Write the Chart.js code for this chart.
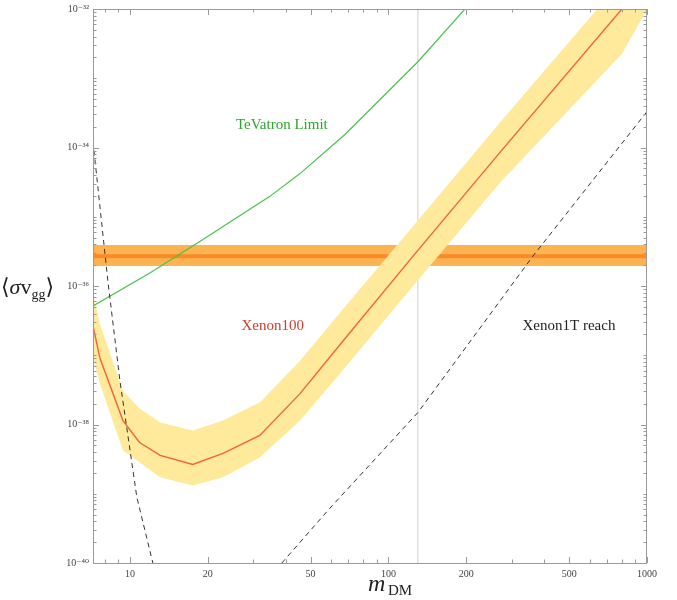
<!DOCTYPE html>
<html>
<head>
<meta charset="utf-8">
<script src="https://cdn.jsdelivr.net/npm/chart.js@4.4.1/dist/chart.umd.min.js"></script>
<style>
  html, body { margin: 0; padding: 0; background: #fff; }
  #wrap { width: 677px; height: 600px; }
</style>
</head>
<body>
<div id="wrap"><canvas id="limitsChart"></canvas></div>
<script>
// axis ranges
const xRange = [7.2, 1000];
const yRange = [1e-40, 1e-32];
const xMajorTicks = [10, 20, 50, 100, 200, 500, 1000];
const xMinorTicks = [8, 9, 30, 40, 60, 70, 80, 90, 300, 400, 600, 700, 800, 900];
const yMajorExp = [-40, -38, -36, -34, -32];

// Xenon100 central limit and its band
const xenonMass = [7.2, 7.65, 9.4, 10.9, 13.1, 17.5, 22.9, 31.8, 45.5, 64.9, 124.5, 270, 800, 1000];
const xenonCentral = [2.65e-37, 9.2e-38, 1.14e-38, 5.5e-39, 3.58e-39, 2.65e-39, 3.83e-39, 6.95e-39, 2.79e-38, 1.42e-37, 2.7e-36, 8.5e-35, 1.0e-32, 2.7e-32];
const xenonUpper = [7.7e-37, 2.84e-37, 3.08e-38, 1.7e-38, 1.07e-38, 8.2e-39, 1.14e-38, 2.07e-38, 8.3e-38, 4.1e-37, 7.3e-36, 2.29e-34, 2.6e-32, 7.1e-32];
const xenonLower = [9.2e-38, 3.9e-38, 4.23e-39, 2.84e-39, 1.73e-39, 1.32e-39, 1.73e-39, 3.35e-39, 1.14e-38, 5.4e-38, 1.0e-36, 3.1e-35, 2.25e-33, 9.8e-33];

// TeVatron limit
const tevMass = [7.2, 11.95, 18.7, 34.8, 45.5, 67.9, 130, 201];
const tevLimit = [5.15e-37, 1.54e-36, 4.43e-36, 1.97e-35, 4.2e-35, 1.54e-34, 1.73e-33, 1.07e-32];

// dashed curves
const lowMass = [7.2, 8.22, 9.15, 10.64, 12.27, 13.06];
const lowCurve = [1.22e-34, 1.18e-36, 4.3e-38, 8.9e-40, 1.0e-40, 2.9e-41];
const reachMass = [38.7, 59.4, 130, 362, 1000];
const reachCurve = [1.0e-40, 6.2e-40, 1.49e-38, 2.7e-36, 3.3e-34];

// horizontal band and vertical line
const bandCenter = 2.7e-36;
const bandTop = 3.9e-36;
const bandBottom = 1.94e-36;
const lineMass = 130;

const pts = (xs, ys) => xs.map((x, i) => ({ x: x, y: ys[i] }));
const flat = v => [{ x: xRange[0], y: v }, { x: xRange[1], y: v }];

const supDigits = { '-': '\u207B', '0': '\u2070', '1': '\u00B9', '2': '\u00B2', '3': '\u00B3', '4': '\u2074', '5': '\u2075', '6': '\u2076', '7': '\u2077', '8': '\u2078', '9': '\u2079' };
const sup = s => String(s).split('').map(c => supDigits[c]).join('');

let yTicks = [];
for (let e = -40; e < -32; e++) {
    for (let k = 1; k <= 9; k++) yTicks.push(k * Math.pow(10, e));
}
yTicks.push(1e-32);
const isYMajor = v => yMajorExp.some(e => Math.abs(v / Math.pow(10, e) - 1) < 1e-6);
const isXMajor = v => xMajorTicks.includes(v);

const serif = '"Liberation Serif", "DejaVu Serif", serif';
Chart.defaults.font.family = serif;

// inward tick marks on all four sides plus the frame
const frameTicks = {
    id: 'frameTicks',
    afterDatasetsDraw(chart) {
        const { ctx, chartArea: a, scales } = chart;
        ctx.save();
        ctx.strokeStyle = '#9a9a9a';
        ctx.lineWidth = 1;
        ctx.strokeRect(a.left + 0.5, a.top + 0.5, a.right - a.left - 1, a.bottom - a.top);
        ctx.beginPath();
        scales.x.ticks.forEach(t => {
            const px = Math.round(scales.x.getPixelForValue(t.value)) + 0.5;
            const len = isXMajor(t.value) ? 6 : 3.5;
            ctx.moveTo(px, a.bottom); ctx.lineTo(px, a.bottom - len);
            ctx.moveTo(px, a.top); ctx.lineTo(px, a.top + len);
        });
        scales.y.ticks.forEach(t => {
            const py = Math.round(scales.y.getPixelForValue(t.value)) + 0.5;
            const len = isYMajor(t.value) ? 6 : 3.5;
            ctx.moveTo(a.left, py); ctx.lineTo(a.left + len, py);
            ctx.moveTo(a.right, py); ctx.lineTo(a.right - len, py);
        });
        ctx.stroke();
        ctx.restore();
    }
};

// curve labels and axis titles
const chartText = {
    id: 'chartText',
    afterDraw(chart) {
        const { ctx, scales } = chart;
        const X = v => scales.x.getPixelForValue(v);
        const Y = v => scales.y.getPixelForValue(v);
        ctx.save();
        ctx.textBaseline = 'middle';
        ctx.textAlign = 'center';
        ctx.font = '15px ' + serif;
        ctx.fillStyle = '#2ea52e';
        ctx.fillText('TeVatron Limit', X(38.7), Y(2.14e-34));
        ctx.fillStyle = '#c8402e';
        ctx.fillText('Xenon100', X(35.7), Y(2.65e-37));
        ctx.fillStyle = '#222';
        ctx.fillText('Xenon1T reach', X(499), Y(2.6e-37));

        // x title: m_DM
        ctx.textAlign = 'left';
        ctx.textBaseline = 'alphabetic';
        ctx.fillStyle = '#222';
        ctx.font = 'italic 24px ' + serif;
        ctx.fillText('m', 368, 591);
        ctx.font = '15px ' + serif;
        ctx.fillText('DM', 388, 595);

        // y title: <sigma v_gg>
        let x = 1;
        const base = 294;
        ctx.font = '22px ' + serif;
        ctx.fillText('\u27E8', x, base); x += ctx.measureText('\u27E8').width;
        ctx.font = 'italic 22px ' + serif;
        ctx.fillText('\u03C3', x, base); x += ctx.measureText('\u03C3').width;
        ctx.font = '22px ' + serif;
        ctx.fillText('v', x, base); x += ctx.measureText('v').width;
        ctx.font = '14px ' + serif;
        ctx.fillText('gg', x, base + 5); x += ctx.measureText('gg').width;
        ctx.font = '22px ' + serif;
        ctx.fillText('\u27E9', x, base);
        ctx.restore();
    }
};

const line = (data, color, width, extra) => Object.assign({
    data: data, borderColor: color, borderWidth: width, pointRadius: 0,
    fill: false, tension: 0
}, extra || {});

new Chart(document.getElementById('limitsChart'), {
    type: 'line',
    data: {
        datasets: [
            line(pts(lowMass, lowCurve), '#333', 1, { borderDash: [5, 4] }),
            line(pts(reachMass, reachCurve), '#333', 1, { borderDash: [5, 4] }),
            line(pts(tevMass, tevLimit), '#4cc04c', 1.2),
            line(pts(xenonMass, xenonCentral), '#f0653c', 1.4),
            line(pts(xenonMass, xenonUpper), 'rgba(0,0,0,0)', 0, { fill: '+1', backgroundColor: '#ffe99a' }),
            line(pts(xenonMass, xenonLower), 'rgba(0,0,0,0)', 0),
            line(flat(bandCenter), '#f98a2a', 4),
            line(flat(bandTop), 'rgba(0,0,0,0)', 0, { fill: '+1', backgroundColor: '#fdb350' }),
            line(flat(bandBottom), 'rgba(0,0,0,0)', 0),
            line([{ x: lineMass, y: yRange[0] }, { x: lineMass, y: yRange[1] }], '#cfcfcf', 1)
        ]
    },
    options: {
        responsive: true,
        maintainAspectRatio: false,
        animation: false,
        layout: { padding: { left: 0, right: 30, top: 0, bottom: 0 } },
        plugins: {
            legend: { display: false },
            tooltip: { enabled: false }
        },
        scales: {
            x: {
                type: 'logarithmic',
                min: xRange[0],
                max: xRange[1],
                afterBuildTicks: s => { s.ticks = xMajorTicks.concat(xMinorTicks).sort((a, b) => a - b).map(v => ({ value: v })); },
                afterFit: s => { s.height = 37; },
                grid: { display: false, drawTicks: false },
                border: { display: false },
                ticks: {
                    autoSkip: false,
                    maxRotation: 0,
                    padding: 5,
                    color: '#444',
                    font: { size: 10 },
                    callback: v => isXMajor(v) ? String(v) : ''
                }
            },
            y: {
                type: 'logarithmic',
                min: yRange[0],
                max: yRange[1],
                afterBuildTicks: s => { s.ticks = yTicks.map(v => ({ value: v })); },
                afterFit: s => { s.width = 93; },
                grid: { display: false, drawTicks: false },
                border: { display: false },
                ticks: {
                    autoSkip: false,
                    padding: 4,
                    color: '#444',
                    font: { size: 10, lineHeight: 1 },
                    callback: v => isYMajor(v) ? '10' + sup(Math.round(Math.log10(v))) : ''
                }
            }
        }
    },
    plugins: [frameTicks, chartText]
});
</script>
</body>
</html>
